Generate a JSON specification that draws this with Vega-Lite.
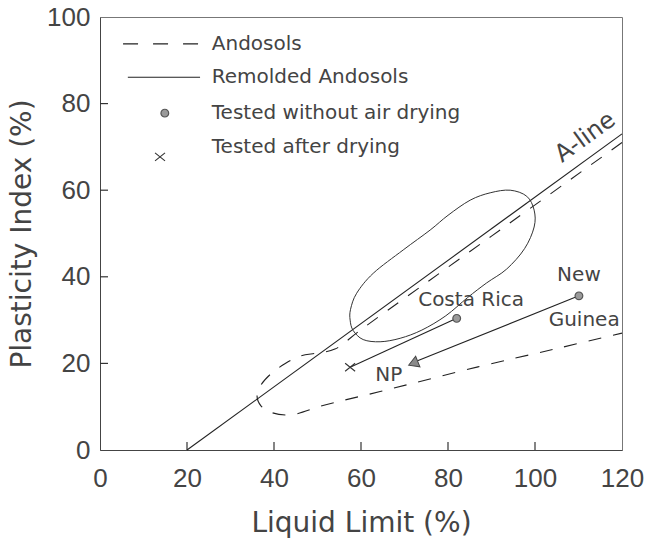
{
  "$schema": "https://vega.github.io/schema/vega-lite/v6.json",
  "width": 522,
  "height": 433,
  "autosize": {"type": "none"},
  "padding": {"left": 100, "top": 17, "right": 28, "bottom": 89},
  "background": "white",
  "config": {
    "view": {"stroke": "#777", "strokeWidth": 1},
    "axis": {
      "grid": false,
      "ticks": false,
      "domainColor": "#444",
      "domainWidth": 1,
      "labelFont": "Liberation Sans",
      "labelFontSize": 26,
      "labelColor": "#444",
      "labelFlush": false,
      "labelOverlap": false,
      "titleFont": "DejaVu Sans",
      "titleFontSize": 28,
      "titleFontWeight": "normal",
      "titleColor": "#444"
    }
  },
  "datasets": {
    "aline": [
      {"ll": 20, "pi": 0},
      {"ll": 120, "pi": 73}
    ],
    "andosols": [
      {"ord": 1, "ll": 120, "pi": 71.0},
      {"ord": 2, "ll": 90, "pi": 49.4},
      {"ord": 3, "ll": 60, "pi": 27.8},
      {"ord": 4, "ll": 54, "pi": 23.3},
      {"ord": 5, "ll": 50, "pi": 22.4},
      {"ord": 6, "ll": 46, "pi": 21.7},
      {"ord": 7, "ll": 42.5, "pi": 19.9},
      {"ord": 8, "ll": 39.3, "pi": 17.6},
      {"ord": 9, "ll": 37.0, "pi": 15.0},
      {"ord": 10, "ll": 36.1, "pi": 12.5},
      {"ord": 11, "ll": 37.0, "pi": 10.2},
      {"ord": 12, "ll": 39.3, "pi": 8.7},
      {"ord": 13, "ll": 43.7, "pi": 8.1},
      {"ord": 14, "ll": 51.7, "pi": 10.4},
      {"ord": 15, "ll": 64.4, "pi": 13.5},
      {"ord": 16, "ll": 86.9, "pi": 19.2},
      {"ord": 17, "ll": 105.3, "pi": 23.5},
      {"ord": 18, "ll": 120, "pi": 27.0}
    ],
    "remolded": [
      {"ord": 1, "ll": 57.5, "pi": 30.0},
      {"ord": 2, "ll": 57.6, "pi": 32.5},
      {"ord": 3, "ll": 59.0, "pi": 36.2},
      {"ord": 4, "ll": 62.8, "pi": 40.8},
      {"ord": 5, "ll": 69.7, "pi": 46.2},
      {"ord": 6, "ll": 75.9, "pi": 50.8},
      {"ord": 7, "ll": 80.0, "pi": 54.2},
      {"ord": 8, "ll": 85.1, "pi": 57.7},
      {"ord": 9, "ll": 89.7, "pi": 59.4},
      {"ord": 10, "ll": 94.3, "pi": 60.0},
      {"ord": 11, "ll": 98.1, "pi": 58.6},
      {"ord": 12, "ll": 99.8, "pi": 55.4},
      {"ord": 13, "ll": 99.8, "pi": 51.5},
      {"ord": 14, "ll": 97.6, "pi": 46.5},
      {"ord": 15, "ll": 93.5, "pi": 41.8},
      {"ord": 16, "ll": 88.9, "pi": 38.6},
      {"ord": 17, "ll": 84.5, "pi": 35.2},
      {"ord": 18, "ll": 79.5, "pi": 31.0},
      {"ord": 19, "ll": 74.0, "pi": 27.7},
      {"ord": 20, "ll": 69.0, "pi": 25.8},
      {"ord": 21, "ll": 64.4, "pi": 25.0},
      {"ord": 22, "ll": 60.5, "pi": 25.5},
      {"ord": 23, "ll": 58.2, "pi": 27.6}
    ],
    "paths": [
      {"site": "Costa Rica", "ord": 1, "ll": 82.0, "pi": 30.4},
      {"site": "Costa Rica", "ord": 2, "ll": 57.5, "pi": 19.1},
      {"site": "New Guinea", "ord": 1, "ll": 110.1, "pi": 35.6},
      {"site": "New Guinea", "ord": 2, "ll": 73.0, "pi": 20.6}
    ],
    "undried": [
      {"site": "Costa Rica", "ll": 82.0, "pi": 30.4},
      {"site": "New Guinea", "ll": 110.1, "pi": 35.6},
      {"site": "legend", "ll": 14.9, "pi": 77.8}
    ],
    "dried": [
      {"site": "Costa Rica", "ll": 57.5, "pi": 19.1},
      {"site": "legend", "ll": 13.8, "pi": 67.7}
    ],
    "np": [
      {"site": "NP", "ll": 72.0, "pi": 20.0}
    ],
    "labels": [
      {"label": "Costa Rica", "ll": 85.3, "pi": 34.6},
      {"label": "New", "ll": 110.1, "pi": 40.4},
      {"label": "Guinea", "ll": 111.3, "pi": 30.0},
      {"label": "NP", "ll": 66.4, "pi": 17.3}
    ],
    "legendDashed": [
      {"ll": 5.3, "pi": 93.8},
      {"ll": 23.0, "pi": 93.8}
    ],
    "legendSolid": [
      {"ll": 6.4, "pi": 86.1},
      {"ll": 23.0, "pi": 86.1}
    ],
    "legendText": [
      {"label": "Andosols", "ll": 25.7, "pi": 93.8},
      {"label": "Remolded Andosols", "ll": 25.7, "pi": 86.1},
      {"label": "Tested without air drying", "ll": 25.7, "pi": 77.8},
      {"label": "Tested after drying", "ll": 25.7, "pi": 70.0}
    ],
    "xTicks": [
      {"ll": 20, "pi": 0},
      {"ll": 40, "pi": 0},
      {"ll": 60, "pi": 0},
      {"ll": 80, "pi": 0},
      {"ll": 100, "pi": 0}
    ],
    "yTicks": [
      {"ll": 0, "pi": 20},
      {"ll": 0, "pi": 40},
      {"ll": 0, "pi": 60},
      {"ll": 0, "pi": 80}
    ]
  },
  "encoding": {
    "x": {
      "field": "ll",
      "type": "quantitative",
      "scale": {"domain": [0, 120], "nice": false, "zero": false},
      "axis": {
        "values": [0, 20, 40, 60, 80, 100, 120],
        "title": "Liquid Limit (%)",
        "labelPadding": 15,
        "titlePadding": 18
      }
    },
    "y": {
      "field": "pi",
      "type": "quantitative",
      "scale": {"domain": [0, 100], "nice": false, "zero": false},
      "axis": {
        "values": [0, 20, 40, 60, 80, 100],
        "title": "Plasticity Index (%)",
        "labelPadding": 10,
        "titlePadding": 10
      }
    }
  },
  "layer": [
    {
      "data": {"name": "xTicks"},
      "mark": {"type": "point", "shape": "M0,0L0,-2", "filled": false, "size": 64, "stroke": "#333", "strokeWidth": 1.2, "opacity": 1}
    },
    {
      "data": {"name": "yTicks"},
      "mark": {"type": "point", "shape": "M0,0L2,0", "filled": false, "size": 64, "stroke": "#333", "strokeWidth": 1.2, "opacity": 1}
    },
    {
      "data": {"name": "aline"},
      "mark": {"type": "line", "stroke": "#222", "strokeWidth": 1.1},
      "encoding": {}
    },
    {
      "data": {"name": "andosols"},
      "mark": {"type": "line", "stroke": "#222", "strokeWidth": 1.1, "strokeDash": [13, 12], "interpolate": "catmull-rom"},
      "encoding": {"order": {"field": "ord", "type": "quantitative"}}
    },
    {
      "data": {"name": "remolded"},
      "mark": {"type": "line", "stroke": "#333", "strokeWidth": 1, "interpolate": "cardinal-closed"},
      "encoding": {"order": {"field": "ord", "type": "quantitative"}}
    },
    {
      "data": {"name": "paths"},
      "mark": {"type": "line", "stroke": "#222", "strokeWidth": 1.1},
      "encoding": {
        "detail": {"field": "site"},
        "order": {"field": "ord", "type": "quantitative"}
      }
    },
    {
      "data": {"name": "undried"},
      "mark": {"type": "point", "shape": "circle", "filled": true, "size": 60, "fill": "#9a9a9a", "stroke": "#555", "strokeWidth": 1.2, "opacity": 1}
    },
    {
      "data": {"name": "dried"},
      "mark": {"type": "point", "shape": "M-1,-0.8L1,0.8M-1,0.8L1,-0.8", "filled": false, "size": 100, "stroke": "#333", "strokeWidth": 1.1, "opacity": 1}
    },
    {
      "data": {"name": "np"},
      "mark": {"type": "point", "shape": "triangle-left", "filled": true, "size": 130, "angle": 338, "fill": "#8a8a8a", "stroke": "#444", "strokeWidth": 1, "opacity": 1}
    },
    {
      "data": {"name": "labels"},
      "mark": {"type": "text", "font": "DejaVu Sans", "fontSize": 20, "fill": "#444", "align": "center", "baseline": "middle"},
      "encoding": {"text": {"field": "label"}}
    },
    {
      "data": {"values": [{"label": "A-line", "ll": 111.6, "pi": 72.2}]},
      "mark": {"type": "text", "font": "DejaVu Sans", "fontSize": 24, "fill": "#444", "align": "center", "baseline": "middle", "angle": 324},
      "encoding": {"text": {"field": "label"}}
    },
    {
      "data": {"name": "legendDashed"},
      "mark": {"type": "line", "stroke": "#222", "strokeWidth": 1.1, "strokeDash": [15, 15]},
      "encoding": {}
    },
    {
      "data": {"name": "legendSolid"},
      "mark": {"type": "line", "stroke": "#222", "strokeWidth": 1.1},
      "encoding": {}
    },
    {
      "data": {"name": "legendText"},
      "mark": {"type": "text", "font": "DejaVu Sans", "fontSize": 20, "fill": "#444", "align": "left", "baseline": "middle"},
      "encoding": {"text": {"field": "label"}}
    }
  ]
}
